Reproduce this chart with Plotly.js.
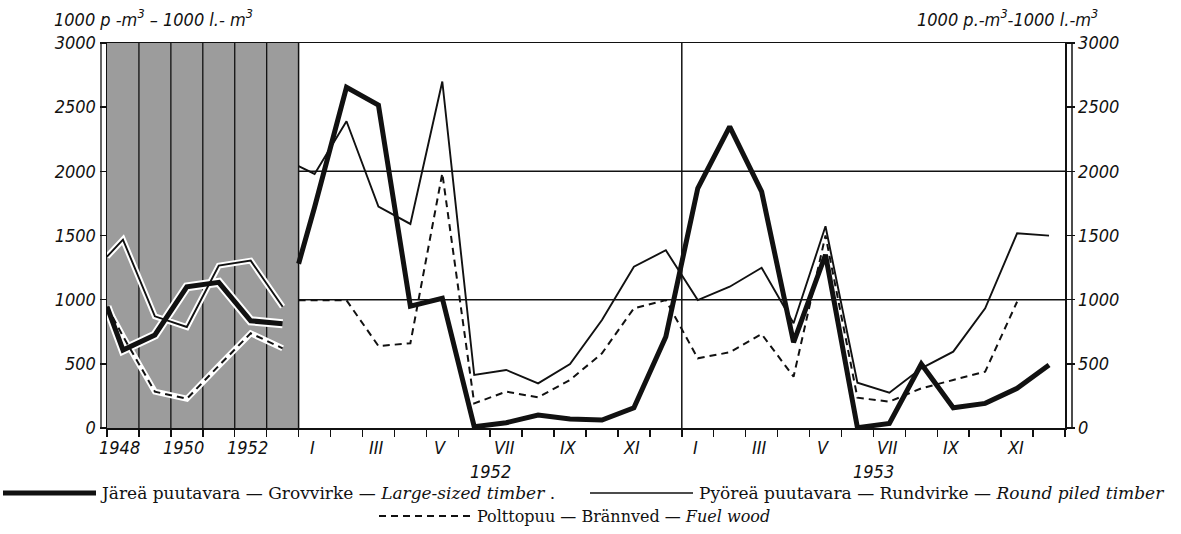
<!DOCTYPE html>
<html><head><meta charset="utf-8">
<script src="https://cdn.plot.ly/plotly-3.0.1.min.js"></script>
<style>html,body{margin:0;padding:0;background:#fff;} #chart{width:1181px;height:534px;}</style>
</head><body><div id="chart"></div>
<script>
// ---------- data ----------
const years = ['1948','1949','1950','1951','1952','1953'];
const yearTickText = ['1948','','1950','','1952',''];
const months = ['I','II','III','IV','V','VI','VII','VIII','IX','X','XI','XII'];
const monthTickText = ['I','','III','','V','','VII','','IX','','XI',''];
const monthYears = ['1952','1953'];
const yTicks = [0, 500, 1000, 1500, 2000, 2500, 3000];
const gridValues = [1000, 2000];

// Large-sized timber (thick line)
const largeYearStart = 945;
const largeYearly = [608, 725, 1100, 1135, 835, 813];
const largeMonthStart = 1280;
const largeMonthly1952 = [1720, 2655, 2517, 950, 1011, 10, 41, 101, 70, 62, 158, 711];
const largeMonthly1953 = [1868, 2348, 1842, 668, 1350, 3, 36, 499, 158, 192, 309, 491];

// Round piled timber (thin line)
const roundYearStart = 1335;
const roundYearly = [1468, 870, 787, 1265, 1304, 945];
const roundMonthStart = 2040;
const roundMonthly1952 = [1980, 2390, 1725, 1590, 2700, 413, 452, 348, 499, 842, 1257, 1385];
const roundMonthly1953 = [997, 1101, 1249, 816, 1572, 353, 275, 465, 595, 933, 1517, 1499];

// Fuel wood (dashed line)
const fuelYearStart = 945;
const fuelYearly = [715, 283, 228, 485, 738, 621];
const fuelMonthStart = 995;
const fuelMonthly1952 = [995, 995, 639, 660, 1985, 192, 283, 239, 374, 582, 933, 997];
const fuelMonthly1953 = [543, 590, 732, 400, 1500, 236, 205, 309, 374, 439, 984, null];

const legendLarge = 'Järeä puutavara — Grovvirke — <i>Large-sized timber</i> .';
const legendRound = 'Pyöreä puutavara — Rundvirke — <i>Round piled timber</i>';
const legendFuel = 'Polttopuu — Brännved — <i>Fuel wood</i>';
const unitLeft = '1000 p -m<sup>3</sup> – 1000 l.- m<sup>3</sup>';
const unitRight = '1000 p.-m<sup>3</sup>-1000 l.-m<sup>3</sup>';

// ---------- layout helpers ----------
const W = 1181, H = 534;
const M = {l:107, r:116, t:43, b:106};
const PW = W - M.l - M.r, PH = H - M.t - M.b;
const nY = years.length;
const nM = months.length * monthYears.length;
const xMax = nY + nM;
const px = p => (p - M.l) / PW;

function yearlyPart(start, vals) {
  return { x: [0].concat(vals.map((_, i) => i + 0.5)), y: [start].concat(vals) };
}
function monthlyPart(start, a, b) {
  const vals = a.concat(b);
  return { x: [nY].concat(vals.map((_, k) => nY + k + 0.5)), y: [start].concat(vals) };
}
function series(start, vals, mStart, a, b) {
  const yp = yearlyPart(start, vals), mp = monthlyPart(mStart, a, b);
  return { x: yp.x.concat([null], mp.x), y: yp.y.concat([null], mp.y), yp };
}

const large = series(largeYearStart, largeYearly, largeMonthStart, largeMonthly1952, largeMonthly1953);
const round = series(roundYearStart, roundYearly, roundMonthStart, roundMonthly1952, roundMonthly1953);
const fuel = series(fuelYearStart, fuelYearly, fuelMonthStart, fuelMonthly1952, fuelMonthly1953);

const ink = '#111';
const traces = [
  {x: round.yp.x, y: round.yp.y, mode:'lines', line:{color:'#fff', width:6}, hoverinfo:'skip'},
  {x: fuel.yp.x, y: fuel.yp.y, mode:'lines', line:{color:'#fff', width:6}, hoverinfo:'skip'},
  {x: large.yp.x, y: large.yp.y, mode:'lines', line:{color:'#fff', width:9}, hoverinfo:'skip'},
  {x: round.x, y: round.y, mode:'lines', name:'Round', line:{color:ink, width:1.9}},
  {x: fuel.x, y: fuel.y, mode:'lines', name:'Fuel', line:{color:ink, width:2, dash:'7px,5px'}},
  {x: large.x, y: large.y, mode:'lines', name:'Large', line:{color:ink, width:5}},
  {x: [0, xMax], y: [0, 0], yaxis:'y2', mode:'lines', line:{width:0}, hoverinfo:'skip', showlegend:false}
];

const shapes = [];
shapes.push({type:'rect', xref:'x', yref:'y', x0:0, x1:nY, y0:0, y1:3000, fillcolor:'#9c9c9c', line:{width:0}, layer:'below'});
for (let i = 1; i < nY; i++) shapes.push({type:'line', xref:'x', yref:'y', x0:i, x1:i, y0:0, y1:3000, line:{color:ink, width:1.3}, layer:'below'});
[nY, nY + months.length].forEach(v => shapes.push({type:'line', xref:'x', yref:'y', x0:v, x1:v, y0:0, y1:3000, line:{color:ink, width:1.5}, layer:'below'}));
gridValues.forEach(v => shapes.push({type:'line', xref:'paper', yref:'y', x0:0, x1:1, y0:v, y1:v, line:{color:ink, width:1.5}, layer:'below'}));
// outer double frame lines
shapes.push({type:'line', xref:'paper', yref:'paper', xsizemode:'pixel', xanchor:0, x0:-6, x1:-6, y0:0, y1:1, line:{color:ink, width:1.3}});
shapes.push({type:'line', xref:'paper', yref:'paper', xsizemode:'pixel', xanchor:1, x0:7, x1:7, y0:0, y1:1, line:{color:ink, width:1.5}});
// legend samples
const ly1 = 1 - (493 - M.t) / PH, ly2 = 1 - (516 - M.t) / PH;
shapes.push({type:'line', xref:'paper', yref:'paper', x0:px(3), x1:px(96), y0:ly1, y1:ly1, line:{color:ink, width:5}});
shapes.push({type:'line', xref:'paper', yref:'paper', x0:px(590), x1:px(693), y0:ly1, y1:ly1, line:{color:ink, width:1.5}});
shapes.push({type:'line', xref:'paper', yref:'paper', x0:px(379), x1:px(470), y0:ly2, y1:ly2, line:{color:ink, width:1.8, dash:'7px,5px'}});

const tickFont = {family:'DejaVu Sans Condensed, DejaVu Sans', size:18, color:ink, style:'italic'};
const serif1 = {family:'DejaVu Serif', size:17, color:ink};
const serif2 = {family:'DejaVu Serif', size:16, color:ink};
const ann = [];
yearTickText.forEach((t, i) => { if (t) ann.push({xref:'x', yref:'paper', x:i + 0.5, y:0, yanchor:'middle', yshift:-19, xshift:-3, text:t, showarrow:false, font:tickFont}); });
monthYears.forEach((yr, j) => {
  monthTickText.forEach((t, k) => { if (t) ann.push({xref:'x', yref:'paper', x:nY + j*months.length + k + 0.5, y:0, yanchor:'middle', yshift:-19, xshift:-2, text:t, showarrow:false, font:tickFont}); });
  ann.push({xref:'x', yref:'paper', x:nY + j*months.length + months.length/2, y:0, yanchor:'middle', yshift:-43, text:yr, showarrow:false, font:tickFont});
});
ann.push({xref:'paper', yref:'paper', x:px(52), y:1, yshift:25, xanchor:'left', yanchor:'middle', text:unitLeft, showarrow:false, font:tickFont});
ann.push({xref:'paper', yref:'paper', x:px(1100), y:1, yshift:25, xanchor:'right', yanchor:'middle', text:unitRight, showarrow:false, font:tickFont});
ann.push({xref:'paper', yref:'paper', x:px(98), y:ly1, xanchor:'left', yanchor:'middle', text:legendLarge, showarrow:false, font:serif1});
ann.push({xref:'paper', yref:'paper', x:px(697), y:ly1, xanchor:'left', yanchor:'middle', text:legendRound, showarrow:false, font:serif1});
ann.push({xref:'paper', yref:'paper', x:px(475), y:ly2, xanchor:'left', yanchor:'middle', text:legendFuel, showarrow:false, font:serif2});

const yAxisCommon = {range:[0, 3000], tickmode:'array', tickvals:yTicks, ticks:'outside', ticklen:6, tickwidth:1.5, tickcolor:ink,
  showline:true, linecolor:ink, linewidth:1.5, showgrid:false, zeroline:false, tickfont:tickFont, fixedrange:true};

const layout = {
  width: W, height: H, margin: M, paper_bgcolor:'#fff', plot_bgcolor:'#fff', showlegend:false,
  xaxis: {range:[0, xMax], tickmode:'array', tickvals:Array.from({length:xMax + 1}, (_, i) => i), ticks:'outside', ticklen:7, tickwidth:1.5,
    tickcolor:ink, showticklabels:false, showline:true, mirror:true, linecolor:ink, linewidth:1.5, showgrid:false, zeroline:false, fixedrange:true},
  yaxis: Object.assign({side:'left'}, yAxisCommon),
  yaxis2: Object.assign({side:'right', overlaying:'y', anchor:'x'}, yAxisCommon, {ticklen:8}),
  shapes, annotations: ann
};
Plotly.newPlot('chart', traces, layout, {displayModeBar:false, staticPlot:true});
</script></body></html>
